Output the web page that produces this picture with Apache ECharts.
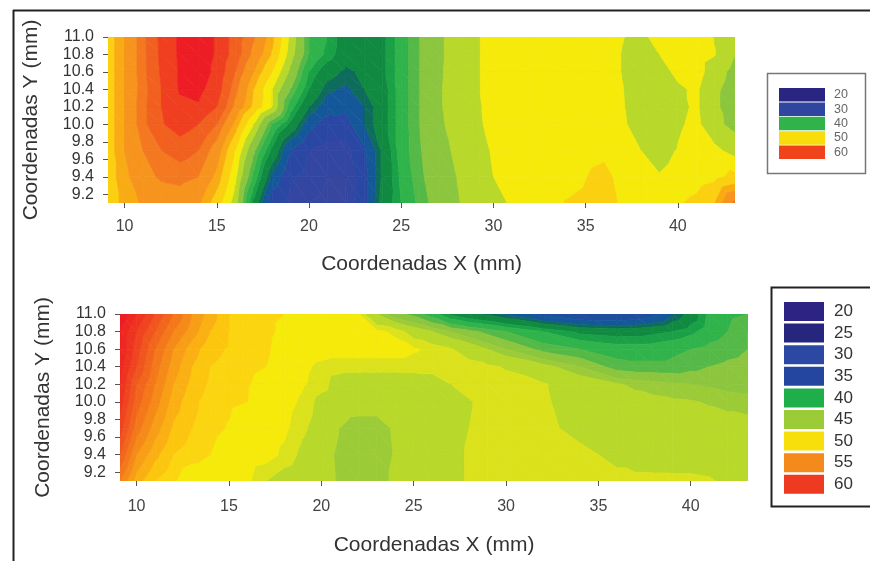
<!DOCTYPE html>
<html><head><meta charset="utf-8">
<style>html,body{margin:0;padding:0;background:#fff}#c{width:870px;height:561px;filter:blur(0.5px)}</style>
<script src="https://cdn.jsdelivr.net/npm/echarts@6/dist/echarts.min.js"></script>
</head><body><div id="c"></div>
<script>
// grid nodes of the two maps (mm)
const xNodes = [9.1,10,11,12,13,14,15,16,17,18,19,20,21,22,23,24,25,26,27,28,29,30,32,34,36,37,38,39,40,41,42,43.1];
const yNodes = [11.0,10.8,10.6,10.4,10.2,10.0,9.7,9.4,9.1];
const xTicks = [10,15,20,25,30,35,40];
const yTicks = [9.2,9.4,9.6,9.8,10.0,10.2,10.4,10.6,10.8,11.0];

// upper map, one row per y node
const upper110 = [50,52.5,55.5,58.6,60.3,61,59.8,57,54.7,51.5,46.5,41,39,36,36,37,40,42.5,44.5,46,46.8,47.5,48,48,48,47.1,46.4,47.9,48,47.9,46.9,45.5];
const upper108 = [50,52.5,55.5,58.5,60.3,61,59.8,57,54,50.8,46,41,38.5,36,36,37,40,42.5,44.5,46,46.8,47.5,48,48,48,46.9,45.8,47,47.8,47.8,47.1,45];
const upper106 = [50,52.5,55.5,58.3,60.2,61,59.5,56,52.5,49,44.5,39,36,34.5,35.5,37,40,42.5,44.6,46,46.8,47.5,48,48,48,46.9,45.5,46.3,47.4,47.8,46,44.3];
const upper104 = [50,52.5,55.3,58,60.2,60.5,59,55,51,47,42.5,37.5,34,33,35,36.5,40,42.5,44.7,46,46.8,47.5,48,48,48,47.1,45.5,45.7,46.7,47.3,45.4,44];
const upper102 = [50,52.5,55.5,58,59.5,59.8,58,54,50.5,47,40,35,32,31.5,33.5,36.5,40,42.5,44.7,45.9,46.7,47.5,48,48,48,47.2,45.5,45.5,46.5,47.3,45.4,43.8];
const upper100 = [50,52.5,55.5,57.8,59,58,56,52,47,41,37,32,29.5,30,33.5,36.5,40,42.5,44.6,45.7,46.6,47.5,48,48,48,47.4,45.8,45.5,46.7,47.5,45.5,44.4];
const upper097 = [50,52.5,54.5,56,56.8,56,53.5,49,43,37,31,28,27,27,30.5,35.5,40,42.3,44.3,45.3,46.2,47.2,48,48,48.6,47.8,47,46.4,47.1,48,47.5,46.2];
const upper094 = [50,52,53.8,54.8,55,54.5,52,47.5,40.5,33,28.5,27,26,26,30,35.5,39.5,42,44,45,46,47,48,48.4,49.5,48.4,47.7,47.1,47.6,48,48.5,49.5];
const upper091 = [50,51.5,52.8,53,53.5,52.8,50,46,37,29,27,26,25.5,25.5,30,36,39,41.5,43.5,44.8,45.8,46.7,47.5,49.1,49.8,48.7,47.5,47.5,48.8,49.5,51,55];

// lower map, one row per y node
const lower110 = [61,59,57,55,53,51.5,50,49.8,49.5,49,48,47.8,47.8,47.5,45,43,42,40,37,35.5,34.5,33,30,28,28,28.5,30,33,36,39.5,40.5,41];
const lower108 = [60,58,56,54,52.5,51,50,49.8,49.5,48.5,48,47.8,47.8,47.8,47.6,47.2,46,45,44,43,42,41,39,37,36.5,36.5,37,37.5,38.5,40,41,42.5];
const lower106 = [60,57.5,55,53,51.5,50.3,49.9,49.7,49.3,48,47.9,47.8,47.8,47.8,47.8,47.8,47.5,47.2,46.7,46,45,44,42,41,40,40,40,40.5,41,41.5,42,42.5];
const lower104 = [59.5,57,54.5,52.5,51,50,49.7,49.3,49,48,47.6,47.2,47,47,47,47,47,47,47,47,46.8,46.5,45.5,44,41.8,41.5,41.5,41.5,42,42.5,42.8,43];
const lower102 = [59,56,54,52,50.7,49.8,49.5,49.1,48.5,48,47.5,47,46,45.8,45.7,45.7,45.8,46,46.6,47,47,47,46.7,46,45.1,44.8,44.5,44.2,44,43.8,43.5,43.5];
const lower100 = [58.5,55.5,53.5,51.5,50.3,49.5,49.2,49,48,47.8,47.2,46.2,45.8,45.7,45.7,45.7,45.7,45.8,46,46.5,47,47,46.8,45.9,45.5,45.4,45.3,45.2,45.1,44.9,44.7,44.5];
const lower097 = [57.5,54.5,52.5,50.8,50,49.4,48.9,48.2,47.9,47.6,46.8,46,45,44.4,44.4,45.2,45.7,45.8,46,46.6,47,47,47,46.1,45.6,45.5,45.5,45.5,45.5,45.5,45.5,45.5];
const lower094 = [56,53,51.3,50,49.5,49,48.2,48,47.8,47.2,46.3,45.6,44.7,44.4,44.4,45.1,45.6,45.7,46,46.8,47,47,47,47,46.2,45.8,45.7,45.6,45.6,45.6,45.6,45.6];
const lower091 = [54,51.5,50,49.2,48,47.9,47.8,47.6,46.6,46,45.7,45.6,44.8,44.4,44.4,45.3,45.7,45.8,46,46.8,47,47,47,47,47,47,47,47,47,46.8,46.2,45.8];

const upperRows = [upper110,upper108,upper106,upper104,upper102,upper100,upper097,upper094,upper091];
const lowerRows = [lower110,lower108,lower106,lower104,lower102,lower100,lower097,lower094,lower091];

// contour bands of each map: lower limit and colour
const upperBandFrom = [0,26,28,31,33.5,35,37.5,39,41,42.5,45,47,49,51,52.5,54.5,56,58,60];
const upperBandFill = ['#37479f','#3346a1','#2a47a3','#14589a','#0d6c5c','#108a40','#1aa046','#2fb34a','#55b948','#8cc63e','#b8d82a','#f5ea0a','#fbd010','#f9ab14','#f7941d','#f4781f','#f2601f','#ef3e20','#ee1c24'];
const lowerBandFrom = [0,28,31,33.5,35,37.5,39,41,42.5,44,45,46.6,47.4,49,50,51,52,53,54,55,56,57,58,59,60];
const lowerBandFill = ['#2a3f98','#1f4ea0','#14589a','#0d6c5c','#108a40','#1aa046','#2fb34a','#55b948','#8cc63e','#9ccb38','#b8d82a','#dbe21b','#f5ea0a','#fbd510','#fcc60f','#fab012','#f89e16','#f58a18','#f4781a','#f2661c','#f1551e','#ef441f','#ee3420','#ee2821','#ed1c24'];

// legends
const upperLegendLabels = ['20','30','40','50','60'];
const upperLegendFill = ['#2a2580','#2e46a0','#2fb34a','#f8dc0c','#f0431c'];
const lowerLegendLabels = ['20','25','30','35','40','45','50','55','60'];
const lowerLegendFill = ['#2d2382','#26267e','#2c48a2','#2445a0','#1faf4a','#9ccb38','#f7df0c','#f58a1c','#ee3a20'];

for (const r of upperRows.concat(lowerRows)) if (r.length !== xNodes.length) throw new Error('row length ' + r.length);

function clip(poly, level, keepAbove) {
  const out = [];
  for (let i = 0; i < poly.length; i++) {
    const a = poly[i], b = poly[(i + 1) % poly.length];
    const ia = keepAbove ? a[2] >= level : a[2] <= level;
    const ib = keepAbove ? b[2] >= level : b[2] <= level;
    if (ia) out.push(a);
    if (ia !== ib) {
      const t = (level - a[2]) / (b[2] - a[2]);
      out.push([a[0] + (b[0] - a[0]) * t, a[1] + (b[1] - a[1]) * t, level]);
    }
  }
  return out;
}
function cellsOf(rows) {
  const d = [];
  for (let j = 0; j < rows.length - 1; j++)
    for (let i = 0; i < xNodes.length - 1; i++) d.push([xNodes[i], yNodes[j], i, j]);
  return d;
}
function contourSeries(rows, gridIndex, bandFrom, bandFill) {
  return {
    type: 'custom', xAxisIndex: gridIndex, yAxisIndex: gridIndex, silent: true, animation: false,
    coordinateSystem: 'cartesian2d', encode: {x: 0, y: 1},
    data: cellsOf(rows),
    clip: true,
    renderItem(params, api) {
      const i = api.value(2), j = api.value(3);
      const p = (ii, jj) => [xNodes[ii], yNodes[jj], rows[jj][ii]];
      const a = p(i, j), b = p(i + 1, j), c = p(i + 1, j + 1), d = p(i, j + 1);
      const children = [];
      for (const tri of [[a, b, c], [a, c, d]]) {
        bandFrom.forEach((lo, k) => {
          const hi = k + 1 < bandFrom.length ? bandFrom[k + 1] : 1000;
          let poly = clip(tri, lo, true);
          if (poly.length) poly = clip(poly, hi, false);
          if (poly.length < 3) return;
          children.push({
            type: 'polygon',
            shape: {points: poly.map(q => api.coord([q[0], q[1]]))},
            style: {fill: bandFill[k], stroke: bandFill[k], lineWidth: 0.7}
          });
        });
      }
      return {type: 'group', children};
    }
  };
}
function xAxis(gridIndex, nameGap, margin) {
  return {
    type: 'value', gridIndex, min: 9.1, max: 43.1,
    name: 'Coordenadas X (mm)', nameLocation: 'middle', nameGap,
    nameTextStyle: {fontFamily: 'Liberation Sans', fontSize: 21, color: '#333'},
    splitLine: {show: false}, axisLine: {show: false},
    axisTick: {show: true, length: 5, lineStyle: {color: '#555'}, customValues: xTicks},
    axisLabel: {fontFamily: 'Liberation Sans', fontSize: 16, color: '#444', margin, customValues: xTicks, showMinLabel: true, showMaxLabel: true}
  };
}
function yAxis(gridIndex, nameGap) {
  return {
    type: 'value', gridIndex, min: 9.1, max: 11.0,
    name: 'Coordenadas Y (mm)', nameLocation: 'middle', nameGap,
    nameTextStyle: {fontFamily: 'Liberation Sans', fontSize: 21, color: '#333'},
    splitLine: {show: false}, axisLine: {show: false},
    axisTick: {show: true, length: 5, lineStyle: {color: '#555'}, customValues: yTicks},
    axisLabel: {fontFamily: 'Liberation Sans', fontSize: 16, color: '#333', margin: 14, customValues: yTicks,
      formatter: v => Number(v).toFixed(1), showMinLabel: true, showMaxLabel: true}
  };
}
function legend(labels, fills, box, sx, sw, sy, sh, pitch, lx, font, border, color) {
  const els = [{type: 'rect', shape: box, style: {fill: '#fff', stroke: border.c, lineWidth: border.w}}];
  labels.forEach((t, i) => {
    els.push({type: 'rect', shape: {x: sx, y: sy + i * pitch, width: sw, height: sh}, style: {fill: fills[i]}});
    els.push({type: 'text', x: lx, y: sy + i * pitch + sh / 2, style: {text: t, fontFamily: 'Liberation Sans', fontSize: font, fill: color, verticalAlign: 'middle', align: 'left'}});
  });
  return els;
}
const chart = echarts.init(document.getElementById('c'), null, {renderer: 'canvas'});
chart.setOption({
  backgroundColor: '#fff',
  animation: false,
  grid: [
    {left: 108, top: 37, width: 627, height: 166},
    {left: 120, top: 314, width: 628, height: 167}
  ],
  xAxis: [xAxis(0, 51, 16), xAxis(1, 54, 18)],
  yAxis: [yAxis(0, 66), yAxis(1, 66)],
  series: [contourSeries(upperRows, 0, upperBandFrom, upperBandFill), contourSeries(lowerRows, 1, lowerBandFrom, lowerBandFill)],
  graphic: {elements: [
    {type: 'line', shape: {x1: 13, y1: 10.5, x2: 870, y2: 10.5}, style: {stroke: '#222', lineWidth: 2}},
    {type: 'line', shape: {x1: 13.5, y1: 10, x2: 13.5, y2: 561}, style: {stroke: '#222', lineWidth: 2}},
    ...legend(upperLegendLabels, upperLegendFill, {x: 767.5, y: 73.5, width: 98, height: 100}, 779, 46, 88, 13.5, 14.4, 834, 12.5, {c: '#777', w: 1.5}, '#666'),
    ...legend(lowerLegendLabels, lowerLegendFill, {x: 771.5, y: 287.5, width: 100, height: 219}, 784, 40, 302, 19, 21.6, 834, 17, {c: '#222', w: 2}, '#333')
  ]}
});
</script></body></html>
